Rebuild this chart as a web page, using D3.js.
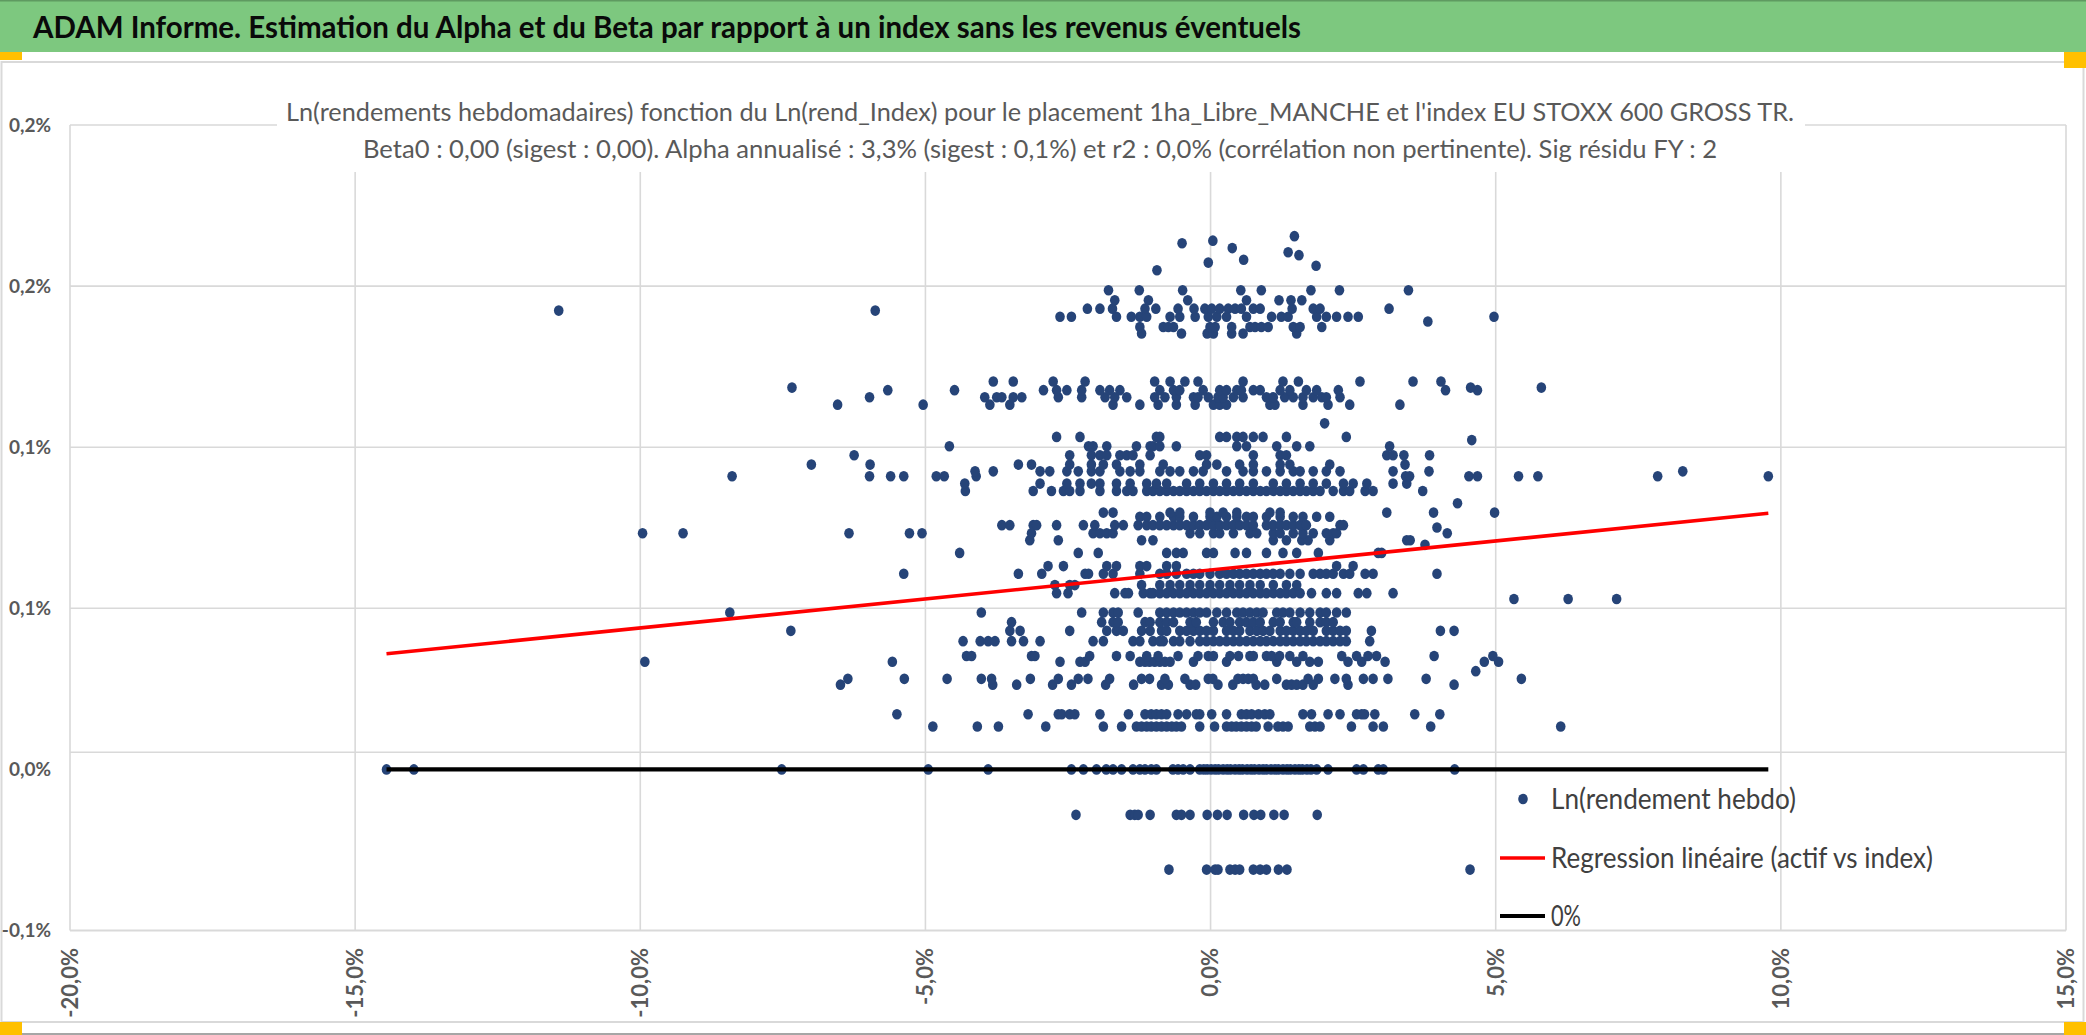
<!DOCTYPE html>
<html>
<head>
<meta charset="utf-8">
<script src="https://cdn.jsdelivr.net/npm/d3@7"></script>
<style>
  html, body { margin: 0; padding: 0; background: #fff; overflow: hidden; }
  svg { display: block; }
</style>
</head>
<body>
<svg id="chart"></svg>
<script>
/* Alpha / Beta scatter: weekly ln-returns of the fund vs the index.
   All values in percent. Returns come in quantised rows (NAV rounding),
   so each row is [y, [x, x, ...]]. */

const HEADER = 'ADAM Informe. Estimation du Alpha et du Beta par rapport à un index sans les revenus éventuels';
const TITLE_1 = "Ln(rendements hebdomadaires) fonction du Ln(rend_Index) pour le placement 1ha_Libre_MANCHE et l'index EU STOXX 600 GROSS TR.";
const TITLE_2 = 'Beta0 : 0,00 (sigest : 0,00). Alpha annualisé : 3,3% (sigest : 0,1%) et r2 : 0,0% (corrélation non pertinente). Sig résidu FY : 2';

const X_TICKS = [-20, -15, -10, -5, 0, 5, 10, 15];
const Y_TICKS = [-0.05, 0, 0.05, 0.10, 0.15, 0.20];
const Y_TICK_LABELS = ['-0,1%', '0,0%', '0,1%', '0,1%', '0,2%', '0,2%'];
const Y_GRID = [0.0053, 0.05, 0.10, 0.15, 0.20];   // the 0 gridline sits a bit above 0 in the source

const LEGEND = ['Ln(rendement hebdo)', 'Regression linéaire (actif vs index)', '0%'];

// regression of the fund on the index (weekly alpha in %, beta)
const ALPHA_W = 0.0619, BETA = 0.0018;
const FIT_RANGE = [-14.45, 9.78];   // index return span of the sample
const ZERO_RANGE = [-14.45, 9.78];

const RETURN_ROWS = [
  [-0.0311, [-0.73,-0.07,0.08,0.13,0.34,0.43,0.51,0.75,0.87,0.98,1.19,1.34,4.55]],
  [-0.0141, [-2.36,-1.41,-1.33,-1.27,-1.06,-0.60,-0.51,-0.36,-0.06,0.12,0.29,0.58,0.76,0.88,1.11,1.29,1.87]],
  [0, [-14.45,-13.97,-7.52,-4.95,-3.90,-2.44,-2.23,-2.00,-1.83,-1.71,-1.56,-1.36,-1.24,-1.15,-1.04,-0.95,-0.66,-0.57,-0.48,-0.36,
       -0.19,-0.12,-0.06,0.01,0.08,0.14,0.22,0.29,0.35,0.43,0.50,0.56,0.64,0.71,0.77,0.85,0.92,0.98,1.06,1.13,1.19,1.27,1.34,1.40,
       1.48,1.55,1.61,1.69,1.76,1.86,2.06,2.56,2.68,2.94,3.03,4.28]],
  [0.0133, [-4.87,-4.09,-3.72,-2.89,-1.88,-1.56,-1.30,-1.21,-1.12,-1.04,-0.95,-0.86,-0.77,-0.68,-0.60,-0.51,-0.19,0.07,0.28,0.37,
       0.45,0.54,0.63,0.72,0.80,1.01,1.18,1.27,1.36,1.74,1.83,1.92,2.47,2.85,3.03,3.86,6.14]],
  [0.0171, [-5.50,-3.20,-2.67,-2.61,-2.47,-2.38,-1.94,-1.44,-1.15,-1.04,-0.95,-0.86,-0.77,-0.57,-0.42,-0.25,-0.19,0.02,0.28,0.54,
       0.63,0.72,0.84,0.95,1.04,1.62,1.77,2.06,2.27,2.56,2.65,2.70,2.88,3.58,4.02]],
  [0.0263, [-6.49,-3.82,-3.40,-2.77,-2.44,-1.84,-1.35,-0.86,-0.74,-0.36,-0.26,0.13,0.39,0.80,0.95,1.33,1.42,1.51,1.62,1.80,2.41,4.27]],
  [0.0281, [-6.36,-5.37,-4.62,-4.02,-3.84,-3.16,-2.67,-2.32,-2.15,-1.77,-1.21,-1.07,-0.80,-0.45,-0.04,0.04,0.48,0.57,0.66,0.75,
       1.16,1.71,1.89,2.18,2.38,2.68,2.85,3.11,3.78,5.45]],
  [0.0305, [4.65]],
  [0.0334, [-9.92,-5.58,-2.64,-2.29,-2.20,-1.24,-1.15,-1.07,-0.98,-0.89,-0.80,-0.71,-0.30,0.28,1.16,1.51,1.74,1.89,2.41,2.65,3.06,4.80,5.05]],
  [0.0352, [-4.28,-4.19,-3.14,-3.08,-2.12,-1.65,-1.41,-1.12,-0.92,-0.57,-0.22,-0.04,0.05,0.34,0.49,0.69,0.75,0.98,1.07,1.21,
       1.39,1.62,2.30,2.56,2.76,2.91,3.92,4.95]],
  [0.0398, [-4.34,-4.04,-3.90,-3.78,-3.49,-3.28,-2.99,-2.06,-1.88,-1.36,-1.24,-1.01,-0.89,-0.83,-0.65,-0.54,-0.36,-0.19,-0.07,0.05,
       0.16,0.28,0.40,0.51,0.63,0.75,0.87,0.98,1.10,1.22,1.33,1.45,1.57,1.68,1.80,1.92,2.03,2.15,2.27,2.38,2.79]],
  [0.0430, [-7.36,-3.52,-3.34,-2.47,-1.82,-1.65,-1.53,-1.21,-1.06,-0.86,-0.77,-0.54,-0.42,-0.30,-0.19,-0.07,0.05,0.28,0.40,0.51,
       0.69,0.81,0.92,1.04,1.22,1.33,1.45,1.57,1.68,1.80,2.03,2.15,2.27,2.38,2.82,4.03,4.27]],
  [0.0457, [-3.49,-1.91,-1.71,-1.62,-1.15,-1.06,-0.89,-0.77,-0.65,-0.36,-0.25,0.05,0.22,0.34,0.51,0.63,0.75,0.87,1.10,1.22,
       1.45,1.51,1.74,1.92,2.03,2.15]],
  [0.0487, [-8.43,-4.02,-2.26,-1.88,-1.71,-1.62,-1.27,-0.89,-0.77,-0.65,-0.54,-0.42,-0.30,-0.19,-0.07,0.11,0.28,0.46,0.57,0.69,
       0.81,0.92,1.16,1.27,1.39,1.57,1.74,1.92,2.03,2.21,2.38]],
  [0.0529, [5.32,6.27,7.12]],
  [0.0547, [-2.70,-2.50,-1.68,-1.50,-1.44,-1.18,-1.06,-1.01,-0.89,-0.77,-0.65,-0.54,-0.42,-0.30,-0.19,-0.07,0.05,0.16,0.28,0.40,
       0.51,0.63,0.75,0.87,0.98,1.10,1.22,1.33,1.45,1.57,1.77,2.03,2.21,2.59,2.74,3.20]],
  [0.0572, [-2.73,-2.47,-2.38,-1.21,-0.89,-0.71,-0.54,-0.36,-0.19,-0.01,0.16,0.34,0.51,0.69,0.87,1.10,1.33,1.51]],
  [0.0607, [-5.38,-3.37,-2.96,-2.20,-2.14,-1.88,-1.71,-1.24,-0.89,-0.77,-0.60,-0.42,-0.30,-0.19,-0.01,0.16,0.28,0.40,0.51,0.63,
       0.75,0.87,0.98,1.10,1.22,1.39,1.57,1.80,1.92,2.03,2.15,2.33,2.44,2.71,2.85,3.97]],
  [0.0631, [-2.85,-2.58,-1.82,-1.65,-1.24,-1.12,-0.77,-0.60,2.21,2.50]],
  [0.0672, [-4.40,-2.32,-1.97,-0.77,-0.60,-0.48,-0.07,0.05,0.43,0.63,0.98,1.27,1.51,1.89,2.94,3.00]],
  [0.0697, [3.76]],
  [0.0711, [-3.17,-2.67,-1.21,-1.01,1.10,1.33,1.60,1.71,2.09,3.44,3.50]],
  [0.0733, [-9.96,-9.25,-6.34,-5.28,-5.06,-3.14,-2.06,-1.94,-1.82,-1.71,-0.36,-0.19,0.05,0.16,0.40,0.69,0.81,1.10,1.22,1.45,
       1.62,1.80,2.03,2.15,2.21,4.15]],
  [0.0751, [3.97]],
  [0.0758, [-3.66,-3.52,-3.11,-3.05,-2.70,-2.23,-2.03,-1.68,-1.53,-1.27,-1.12,-1.01,-0.89,-0.77,-0.65,-0.54,-0.42,-0.30,-0.19,-0.07,
       0.05,0.16,0.28,0.40,0.51,0.63,0.75,0.98,1.10,1.22,1.33,1.45,1.57,1.68,2.27,2.33]],
  [0.0784, [-1.24,-1.12,-0.89,-0.65,-0.54,-0.30,-0.01,0.11,0.28,0.46,0.63,0.75,0.98,1.22,1.45,1.62,1.86,2.09]],
  [0.0797, [-1.88,-1.71,-0.71,-0.54,-0.01,0.22,0.46,1.04,1.22,3.09,3.91,4.98]],
  [0.0826, [4.33]],
  [0.0864, [-4.30,-3.11,-2.79,-2.58,-2.47,-2.29,-1.94,-1.65,-1.47,-1.36,-1.12,-1.01,-0.89,-0.77,-0.65,-0.54,-0.42,-0.30,-0.19,-0.07,
       0.05,0.16,0.28,0.40,0.51,0.63,0.75,0.87,0.98,1.10,1.22,1.33,1.45,1.57,1.68,1.80,1.92,2.15,2.33,2.44,2.71,2.85,3.72]],
  [0.0887, [-4.31,-2.99,-2.52,-2.29,-2.09,-1.94,-1.65,-1.41,-1.12,-0.95,-0.77,-0.42,-0.19,0.05,0.28,0.51,0.75,1.10,1.33,1.57,
       1.80,2.03,2.33,2.50,2.74,3.20,3.44]],
  [0.0910, [-8.39,-5.98,-5.61,-5.38,-4.81,-4.67,-4.11,3.42,3.49,4.53,4.68,5.40,5.74,7.84,9.78]],
  [0.0925, [-4.13,-3.81,-2.99,-2.82,-2.52,-2.32,-2.09,-1.94,-1.59,-1.41,-1.24,-0.89,-0.71,-0.54,-0.30,-0.13,0.28,0.57,0.75,0.98,
       1.22,1.45,1.57,1.80,2.03,2.27,3.20,3.83,8.28]],
  [0.0946, [-7.00,-5.97,-3.37,-3.14,-2.47,-2.09,-1.88,-1.65,-1.24,-0.83,-0.07,0.11,0.51,0.75,1.22,1.39,2.09,3.41]],
  [0.0975, [-6.25,-2.47,-2.09,-1.94,-1.82,-1.59,-1.47,-1.36,-1.06,-0.19,-0.07,0.75,1.22,1.33,3.09,3.20,3.39,3.84]],
  [0.1003, [-4.58,-2.14,-2.06,-1.82,-1.30,-1.06,-1.01,-0.89,-0.60,0.46,0.63,1.16,1.51,1.74,3.14]],
  [0.1022, [4.58]],
  [0.1032, [-2.70,-2.29,-0.95,-0.89,0.16,0.28,0.46,0.57,0.75,0.92,1.33,2.38]],
  [0.1074, [2.00]],
  [0.1132, [-6.54,-5.04,-3.87,-3.52,-1.71,-1.24,-0.92,-0.60,-0.27,0.05,0.16,0.28,1.04,1.13,1.62,2.06,2.44,3.32]],
  [0.1155, [-5.98,-3.96,-3.75,-3.66,-3.46,-3.31,-2.67,-2.26,-1.85,-1.68,-1.47,-0.98,-0.80,-0.60,-0.30,-0.22,-0.04,0.13,0.22,0.40,
       0.57,0.98,1.10,1.30,1.45,1.62,1.80,1.95,2.03,2.27]],
  [0.1177, [-5.66,-4.49,-2.93,-2.70,-2.52,-2.26,-1.94,-1.77,-1.59,-0.89,-0.65,-0.54,-0.13,0.16,0.28,0.46,0.54,0.75,0.87,1.22,
       1.39,1.68,1.86,2.24,4.12,4.68]],
  [0.1185, [-7.34,4.56,5.80]],
  [0.1204, [-3.81,-3.46,-2.76,-2.20,-0.98,-0.71,-0.45,-0.22,0.57,1.27,1.54,2.62,3.55,4.04]],
  [0.1353, [-1.21,-0.51,-0.06,0.05,0.37,0.57,1.51]],
  [0.1373, [-1.24,-0.83,-0.74,-0.65,-0.01,0.08,0.37,0.69,0.78,0.89,1.01,1.45,1.57,1.95]],
  [0.1390, [3.81]],
  [0.1405, [-2.64,-2.44,-1.65,-1.39,-1.24,-1.12,-0.71,-0.54,-0.27,-0.04,0.11,0.28,0.63,1.07,1.24,1.36,1.86,2.03,2.21,2.41,2.59,4.97]],
  [0.1424, [-11.43,-5.88]],
  [0.1430, [-2.16,-1.94,-1.72,-1.15,-0.96,-0.57,-0.29,-0.10,0.02,0.16,0.31,0.43,0.54,0.75,0.87,1.43,1.80,1.92,3.13]],
  [0.1456, [-1.68,-1.09,-0.40,0.63,1.20,1.41,1.60]],
  [0.1487, [-1.79,-1.25,-0.49,0.53,0.89,1.76,2.26,3.47]]
];

// isolated weeks at the top of the cloud: [index %, fund %]
const TOP_POINTS = [[1.47,0.1655],[0.04,0.1641],[-0.50,0.1633],[0.38,0.1618],[1.36,0.1605],
                    [1.55,0.1596],[0.58,0.1582],[-0.04,0.1573],[1.85,0.1563],[-0.94,0.1549]];

const W = 2086, H = 1035;
const DOT = '#264478', GRID = '#d9d9d9', AXT = '#595959', LEGT = '#404040';
const FONT = 'Lato, "Open Sans", sans-serif';
const DOT_RX = 4.8, DOT_RY = 5.3;   // markers are a touch taller than wide in the source

const points = [];
RETURN_ROWS.forEach(([yv, xs]) => xs.forEach(xv => points.push([xv, yv])));
TOP_POINTS.forEach(p => points.push(p));

const svg = d3.select('#chart').attr('width', W).attr('height', H)
  .attr('viewBox', `0 0 ${W} ${H}`);

const x = d3.scaleLinear().domain([-20, 15]).range([70, 2066]);
const y = d3.scaleLinear().domain([-0.05, 0.20]).range([930.5, 125]);

// --- frame / header -------------------------------------------------------
svg.append('rect').attr('width', W).attr('height', H).attr('fill', '#fff');
svg.append('rect').attr('x', 0).attr('y', 0).attr('width', W).attr('height', 52).attr('fill', '#7dc87f');
svg.append('line').attr('x1', 0).attr('x2', W).attr('y1', 0.75).attr('y2', 0.75)
  .attr('stroke', '#5f9a61').attr('stroke-width', 1.5);
svg.append('text').attr('x', 33).attr('y', 38)
  .attr('font-family', FONT).attr('font-size', 31).attr('font-weight', 700).attr('fill', '#0a0a0a')
  .attr('textLength', 1268).attr('lengthAdjust', 'spacingAndGlyphs').text(HEADER);

// chart area border
svg.append('rect').attr('x', 1.5).attr('y', 62).attr('width', 2082).attr('height', 960)
  .attr('fill', 'none').attr('stroke', GRID).attr('stroke-width', 2);
svg.append('line').attr('x1', 0).attr('x2', W).attr('y1', 1034).attr('y2', 1034)
  .attr('stroke', '#a6a6a6').attr('stroke-width', 2);

// selection handles in the corners
[[0, 52, 22, 8], [2064, 52, 22, 16], [0, 1022, 22, 13], [2064, 1022, 22, 13]].forEach(([hx, hy, hw, hh]) =>
  svg.append('rect').attr('x', hx).attr('y', hy).attr('width', hw).attr('height', hh).attr('fill', '#ffc000'));

// --- grid -------------------------------------------------------------------
const gGrid = svg.append('g');
gGrid.selectAll('line.v').data(X_TICKS).join('line').attr('class', 'v')
  .attr('x1', d => x(d)).attr('x2', d => x(d)).attr('y1', y(0.20)).attr('y2', y(-0.05))
  .attr('stroke', GRID).attr('stroke-width', 1.6);
gGrid.selectAll('line.h').data(Y_GRID).join('line').attr('class', 'h')
  .attr('x1', x(-20)).attr('x2', x(15)).attr('y1', d => y(d)).attr('y2', d => y(d))
  .attr('stroke', GRID).attr('stroke-width', 1.6);
// category axis line at the bottom
gGrid.append('line').attr('x1', x(-20)).attr('x2', x(15)).attr('y1', y(-0.05)).attr('y2', y(-0.05))
  .attr('stroke', GRID).attr('stroke-width', 2);

// --- axis labels ------------------------------------------------------------
const fmtX = v => v.toFixed(1).replace('.', ',') + '%';
svg.append('g').selectAll('text').data(X_TICKS).join('text')
  .attr('transform', d => `translate(${x(d)},948) rotate(-90)`)
  .attr('text-anchor', 'end').attr('dy', '0.36em')
  .attr('font-family', FONT).attr('font-size', 22).attr('font-weight', 700).attr('fill', AXT)
  .text(fmtX);

svg.append('g').selectAll('text').data(Y_TICKS).join('text')
  .attr('x', 51).attr('y', d => y(d)).attr('dy', '0.36em').attr('text-anchor', 'end')
  .attr('font-family', FONT).attr('font-size', 19).attr('font-weight', 700).attr('fill', AXT)
  .text((d, i) => Y_TICK_LABELS[i]);

// --- series -----------------------------------------------------------------
svg.append('g').selectAll('ellipse').data(points).join('ellipse')
  .attr('cx', d => x(d[0])).attr('cy', d => y(d[1])).attr('rx', DOT_RX).attr('ry', DOT_RY).attr('fill', DOT);

const line = d3.line().x(d => x(d[0])).y(d => y(d[1]));
svg.append('path').datum(FIT_RANGE.map(v => [v, ALPHA_W + BETA * v]))
  .attr('d', line).attr('fill', 'none').attr('stroke', '#ff0000').attr('stroke-width', 3.6);
svg.append('path').datum(ZERO_RANGE.map(v => [v, 0]))
  .attr('d', line).attr('fill', 'none').attr('stroke', '#000').attr('stroke-width', 4.2);

// --- chart title (white box masks the grid behind it) -----------------------
svg.append('rect').attr('x', 277).attr('y', 64).attr('width', 1528).attr('height', 108).attr('fill', '#fff');
svg.append('text').attr('x', 1040).attr('y', 121).attr('text-anchor', 'middle')
  .attr('font-family', FONT).attr('font-size', 25).attr('fill', AXT)
  .attr('textLength', 1508).attr('lengthAdjust', 'spacingAndGlyphs').text(TITLE_1);
svg.append('text').attr('x', 1040).attr('y', 158).attr('text-anchor', 'middle')
  .attr('font-family', FONT).attr('font-size', 25).attr('fill', AXT)
  .attr('textLength', 1354).attr('lengthAdjust', 'spacingAndGlyphs').text(TITLE_2);

// --- legend -----------------------------------------------------------------
const gLeg = svg.append('g');
const legY = [799, 858, 916], legW = [245, 382, 30];
gLeg.append('ellipse').attr('cx', 1523).attr('cy', legY[0]).attr('rx', DOT_RX).attr('ry', DOT_RY).attr('fill', DOT);
gLeg.append('line').attr('x1', 1500).attr('x2', 1545).attr('y1', legY[1]).attr('y2', legY[1])
  .attr('stroke', '#ff0000').attr('stroke-width', 3.6);
gLeg.append('line').attr('x1', 1500).attr('x2', 1545).attr('y1', legY[2]).attr('y2', legY[2])
  .attr('stroke', '#000').attr('stroke-width', 4.2);
gLeg.selectAll('text').data(LEGEND).join('text')
  .attr('x', 1551).attr('y', (d, i) => legY[i]).attr('dy', '0.36em')
  .attr('font-family', FONT).attr('font-size', 28).attr('fill', LEGT)
  .attr('textLength', (d, i) => legW[i]).attr('lengthAdjust', 'spacingAndGlyphs')
  .text(d => d);
</script>
</body>
</html>
